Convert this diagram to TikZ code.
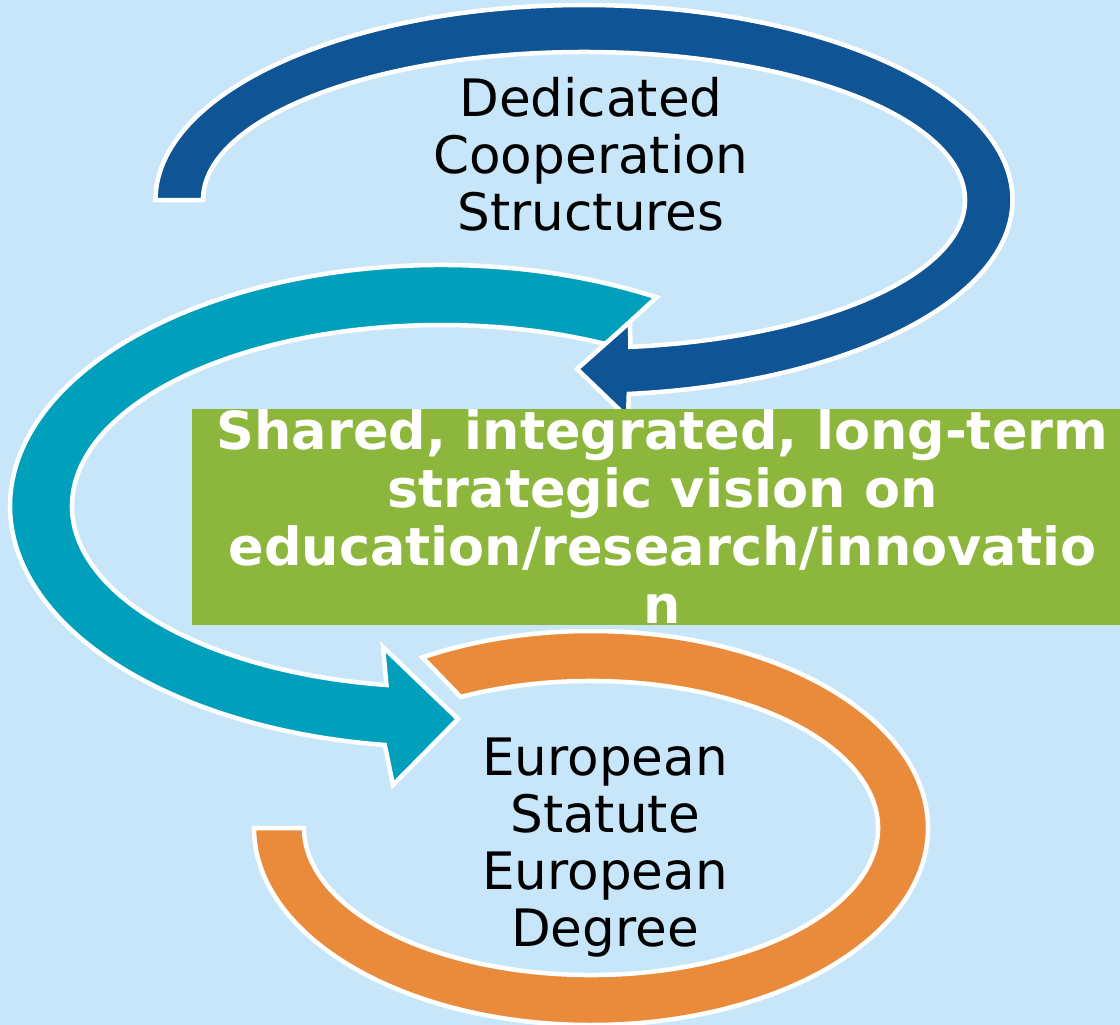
\documentclass[tikz,border=0pt]{standalone}
\usepackage{fontspec}
\setmainfont{DejaVu Sans}
\usepackage{tikz}

\definecolor{bgblue}{HTML}{C8E6FA}
\definecolor{loopblue}{HTML}{0F5494}
\definecolor{loopteal}{HTML}{00A0BC}
\definecolor{looporange}{HTML}{EA8A3B}
\definecolor{visiongreen}{HTML}{8DB63C}

\begin{document}
\begin{tikzpicture}[x=1pt,y=1pt]
    \tikzstyle{every node} = [font=\fontsize{51.6}{57}\selectfont, align=center, inner sep=0pt]
    \tikzstyle{band} = [draw=white, line width=4.5pt]
    \tikzstyle{visionbox} = [fill=visiongreen, text=white, font=\fontsize{52.5}{58}\selectfont\bfseries, minimum width=941, minimum height=216]
    \useasboundingbox[fill=bgblue] (0,0) rectangle (1120,-1025);
    \clip (0,0) rectangle (1120,-1025);

    % arrows
    \begin{scope}[shift={(591,-828)}]
    \draw[band,fill=looporange] (180:337 and 197)
      arc[start angle=180,end angle=480,x radius=337,y radius=197]
      -- (117:287 and 147)
      arc[start angle=477,end angle=180,x radius=287,y radius=147] -- cycle;
    \end{scope}
    \begin{scope}[shift={(441,-506)}]
    \draw[band,fill=loopteal] (60:431 and 241)
      arc[start angle=60,end angle=262.5,x radius=431,y radius=241]
      -- (-48,-279) -- (17,-213) -- (-58,-141) -- (261.5:369 and 181)
      arc[start angle=261.5,end angle=63.5,x radius=369,y radius=181] -- cycle;
    \end{scope}
    \begin{scope}[shift={(584,-200)}]
    \draw[band,fill=loopblue] (180:428.5 and 195)
      arc[start angle=180,end angle=-84,x radius=428.5,y radius=195]
      -- (44,-218) -- (-7,-169) -- (46,-122) -- (-83:381 and 148)
      arc[start angle=-83,end angle=180,x radius=381,y radius=148] -- cycle;
    \end{scope}

    % place nodes
    \node (dedicated) at (591,-154) {Dedicated\\Cooperation\\Structures};
    \node[visionbox] (vision) at (662.5,-517) {Shared, integrated, long-term\\strategic vision on\\education/research/innovatio\\n};
    \node (statute) at (605,-848) {European\\Statute\\European\\Degree};
\end{tikzpicture}
\end{document}
